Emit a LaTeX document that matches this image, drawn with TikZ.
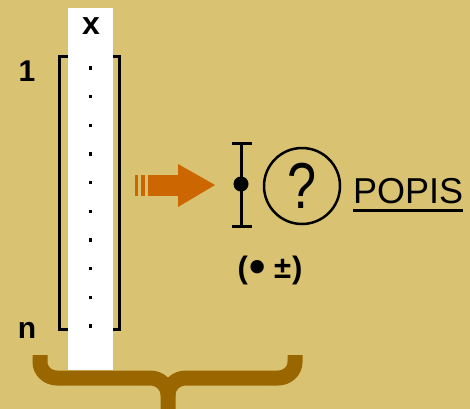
\documentclass[tikz,border=0pt]{standalone}
\usepackage{graphicx}
\usepackage{fontspec}
\setmainfont{Liberation Sans}
\definecolor{GoldBack}{RGB}{200,170,76}
\definecolor{GoldLight}{RGB}{217,194,114}
\definecolor{BraceBrown}{RGB}{154,102,0}
\definecolor{ArrowOrange}{RGB}{204,102,0}

\begin{document}
\begin{tikzpicture}[x=1pt, y=-1pt,
    lbl/.style={font=\fontsize{30}{30}\selectfont\bfseries, inner sep=0pt},
    dotmark/.style={rectangle, fill=black, inner sep=0pt, minimum size=3.5pt},
    brace/.style={draw=BraceBrown, line width=15pt}]
    \useasboundingbox (0,0) rectangle (470,408);
    % Background
    \shade[top color=GoldLight, middle color=GoldBack, bottom color=GoldLight, shading angle=135] (0,0) rectangle (470,408);

    % Vector with brackets
    \draw[line width=3pt] (59.5,56.5) rectangle (119,329);
    \node[fill=white, inner sep=0pt, minimum width=45pt, minimum height=362pt] (vec) at (90.5,189) {};
    \node[lbl, font=\fontsize{32}{32}\selectfont\bfseries] (xlab) at (91,26) {x};
    \node[lbl] (first) at (27,71) {1};
    \node[lbl] (last) at (27,330) {n};
    \foreach \i in {0,...,9}
        \node[dotmark] (d\i) at (90.5,{68+28.67*\i}) {};

    % Arrow
    \fill[ArrowOrange] (135,175) rectangle (138,196);
    \fill[ArrowOrange] (141,175) rectangle (145,196);
    \fill[ArrowOrange] (148,175) rectangle (179,196);
    \fill[ArrowOrange] (178,164) -- (215,185) -- (178,207) -- cycle;

    % Error bar
    \coordinate (bartop) at (241,143);
    \coordinate (barbot) at (241,226);
    \draw[line width=3pt] (bartop) -- (barbot);
    \draw[line width=3pt] ([xshift=-9pt]bartop) -- ([xshift=11pt]bartop);
    \draw[line width=3pt] ([xshift=-9pt]barbot) -- ([xshift=11pt]barbot);
    \node[circle, fill=black, inner sep=0pt, minimum size=15pt] (mean) at (241,184) {};
    \node[lbl, font=\fontsize{31}{31}\selectfont\bfseries] (meanpm) at (270,270)
        {(\kern2pt\raisebox{-4.5pt}{\scalebox{1.5}{•}}\kern8pt±\kern1pt)};

    % Unknown
    \node[circle, draw, line width=2.5pt, minimum size=76pt, inner sep=0pt,
          font=\fontsize{58}{58}\selectfont] (query) at (302,186) {\scalebox{0.9}[1.12]{?}};
    \node[font=\fontsize{36}{36}\selectfont, inner sep=0pt, anchor=base west] (popis) at (353,203) {POPIS};
    \draw[line width=3pt] ([yshift=-7pt]popis.south west) -- ([yshift=-7pt]popis.south east);

    % Brace
    \draw[brace] (40,355) -- (40,362) to[out=-90, in=180] (57,378) -- (150,378) to[out=0, in=90] (168,395) -- (168,412);
    \draw[brace] (295,355) -- (295,362) to[out=-90, in=0] (278,378) -- (186,378) to[out=180, in=90] (168,395);
\end{tikzpicture}
\end{document}
